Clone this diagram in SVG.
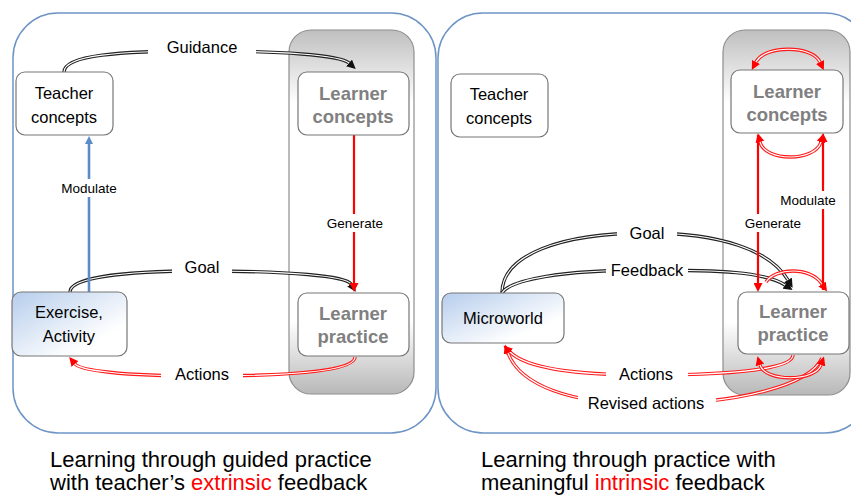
<svg xmlns="http://www.w3.org/2000/svg" width="851" height="497" viewBox="0 0 851 497">
<style>
.panel{fill:#fff;stroke:#6d94c6;stroke-width:1.5}
.gbox{fill:url(#gray);stroke:#8e8e8e;stroke-width:1.2}
.node{fill:#fff;stroke:#777;stroke-width:1.2}
.blue{fill:url(#blue);stroke:#777;stroke-width:1.2}
.t{font-family:"Liberation Sans",Arial,sans-serif;font-size:16.5px;fill:#000;text-anchor:middle}
.lt{font-family:"Liberation Sans",Arial,sans-serif;font-size:18.5px;font-weight:bold;fill:#808080;text-anchor:middle}
.lab{font-family:"Liberation Sans",Arial,sans-serif;font-size:16.5px;fill:#000;text-anchor:middle}
.sl{font-family:"Liberation Sans",Arial,sans-serif;font-size:13.5px;fill:#000;text-anchor:middle}
.cap{font-family:"Liberation Sans",Arial,sans-serif;font-size:22px;fill:#000}
.red{fill:#ff0000}
.ok{fill:none;stroke:#222;stroke-width:3.4}
.or{fill:none;stroke:#ff1a1a;stroke-width:3.4}
.iw{fill:none;stroke:#fff;stroke-width:1.2}
.sr{fill:none;stroke:#ff0000;stroke-width:2.2}
.sb{fill:none;stroke:#5b8cc8;stroke-width:2.6}
.bg{fill:#fff}
</style>
<defs>
<linearGradient id="gray" x1="0" y1="0" x2="0" y2="1">
<stop offset="0" stop-color="#bfbfbf"/>
<stop offset="0.2" stop-color="#fff"/>
<stop offset="0.8" stop-color="#fff"/>
<stop offset="1" stop-color="#b8b8b8"/>
</linearGradient>
<linearGradient id="blue" x1="0" y1="0" x2="1" y2="1">
<stop offset="0" stop-color="#b6cdec"/>
<stop offset="0.75" stop-color="#fff"/>
<stop offset="1" stop-color="#fff"/>
</linearGradient>
<marker id="ak" viewBox="0 0 10 10" refX="0" refY="5" markerWidth="9" markerHeight="9" markerUnits="userSpaceOnUse" orient="auto-start-reverse">
<path d="M0,0 L10,5 L0,10 z" fill="#111"/>
</marker>
<marker id="ar" viewBox="0 0 10 10" refX="0" refY="5" markerWidth="9" markerHeight="9" markerUnits="userSpaceOnUse" orient="auto-start-reverse">
<path d="M0,0 L10,5 L0,10 z" fill="#ff0000"/>
</marker>
<marker id="ab" viewBox="0 0 10 10" refX="0" refY="5" markerWidth="9" markerHeight="8" markerUnits="userSpaceOnUse" orient="auto-start-reverse">
<path d="M0,0 L10,5 L0,10 z" fill="#5b8cc8"/>
</marker>
</defs>

<g id="panel-left"><rect class="panel" x="13" y="13" width="423" height="420" rx="45"/></g>
<g id="panel-right"><rect class="panel" x="438" y="13" width="432" height="420" rx="45"/></g>
<g id="group-left"><rect class="gbox" x="289" y="30" width="125" height="364" rx="22"/></g>
<g id="group-right"><rect class="gbox" x="723" y="30" width="127" height="365" rx="22"/></g>

<g id="connectors">
<path class="ok" d="M64,72 C64,55 120,51 202,51 C280,51 340,55 349,63" marker-end="url(#ak)"/>
<path class="iw" d="M64,72 C64,55 120,51 202,51 C280,51 340,55 349,63"/>
<path class="ok" d="M70,292 C70,278 120,271 202,271 C290,271 346,276 351,284" marker-end="url(#ak)"/>
<path class="iw" d="M70,292 C70,278 120,271 202,271 C290,271 346,276 351,284"/>
<path class="or" d="M355,357 C355,370 300,376 202,376 C120,376 80,370 75,364" marker-end="url(#ar)"/>
<path class="iw" d="M355,357 C355,370 300,376 202,376 C120,376 80,370 75,364"/>
<path class="sb" d="M89,292 L89,144" marker-end="url(#ab)"/>
<path class="sr" d="M354,135 L354,283" marker-end="url(#ar)"/>
<path class="ok" d="M502,293 C502,255 560,233 647,233 C720,233 770,250 788,280" marker-end="url(#ak)"/>
<path class="iw" d="M502,293 C502,255 560,233 647,233 C720,233 770,250 788,280"/>
<path class="ok" d="M502,293 C510,280 560,270 647,270 C720,270 765,272 785,285" marker-end="url(#ak)"/>
<path class="iw" d="M502,293 C510,280 560,270 647,270 C720,270 765,272 785,285"/>
<path class="or" d="M793,355 C793,368 740,375 646,375 C570,375 525,367 510,352" marker-end="url(#ar)"/>
<path class="iw" d="M793,355 C793,368 740,375 646,375 C570,375 525,367 510,352"/>
<path class="or" d="M822,358 C810,385 740,404 646,404 C570,404 520,385 508,353" marker-end="url(#ar)"/>
<path class="iw" d="M822,358 C810,385 740,404 646,404 C570,404 520,385 508,353"/>
<path class="or" d="M756,62 C765,45 812,45 820,62" marker-start="url(#ar)" marker-end="url(#ar)"/>
<path class="iw" d="M756,62 C765,45 812,45 820,62"/>
<path class="or" d="M760,142 C765,162 815,162 821,142" marker-start="url(#ar)" marker-end="url(#ar)"/>
<path class="iw" d="M760,142 C765,162 815,162 821,142"/>
<path class="or" d="M766,282 C775,268 810,266 822,284" marker-end="url(#ar)"/>
<path class="iw" d="M766,282 C775,268 810,266 822,284"/>
<path class="or" d="M760,365 C765,382 815,382 821,365" marker-start="url(#ar)" marker-end="url(#ar)"/>
<path class="iw" d="M760,365 C765,382 815,382 821,365"/>
<path class="sr" d="M758,135 L758,283" marker-end="url(#ar)"/>
<path class="sr" d="M823,290 L823,142" marker-end="url(#ar)"/>
<rect class="bg" x="148" y="34" width="108" height="27"/>
<text class="lab" x="202" y="53">Guidance</text>
<rect class="bg" x="172" y="254" width="60" height="26"/>
<text class="lab" x="202" y="273">Goal</text>
<rect class="bg" x="161" y="362" width="82" height="26"/>
<text class="lab" x="202" y="380">Actions</text>
<rect class="bg" x="57" y="179" width="64" height="18"/>
<text class="sl" x="89" y="193">Modulate</text>
<rect class="bg" x="325" y="214" width="60" height="18"/>
<text class="sl" x="355" y="228">Generate</text>
<rect class="bg" x="617" y="220" width="60" height="26"/>
<text class="lab" x="647" y="239">Goal</text>
<rect class="bg" x="606" y="257" width="82" height="26"/>
<text class="lab" x="647" y="276">Feedback</text>
<rect class="bg" x="606" y="361" width="82" height="26"/>
<text class="lab" x="646" y="380">Actions</text>
<rect class="bg" x="578" y="390" width="138" height="27"/>
<text class="lab" x="646" y="409">Revised actions</text>
<rect class="bg" x="744" y="214" width="58" height="18"/>
<text class="sl" x="773" y="228">Generate</text>
<rect class="bg" x="778" y="191" width="60" height="18"/>
<text class="sl" x="808" y="205">Modulate</text>
</g>

<g id="teacher-concepts-left">
<rect class="node" x="16" y="72" width="97" height="63" rx="9"/>
<text class="t" x="64" y="99">Teacher</text>
<text class="t" x="64" y="123">concepts</text>
</g>
<g id="learner-concepts-left">
<rect class="node" x="298" y="72" width="111" height="63" rx="9"/>
<text class="lt" x="353" y="100">Learner</text>
<text class="lt" x="353" y="123">concepts</text>
</g>
<g id="exercise-activity">
<rect class="blue" x="12" y="292" width="115" height="64" rx="9"/>
<text class="t" x="69" y="318">Exercise,</text>
<text class="t" x="69" y="342">Activity</text>
</g>
<g id="learner-practice-left">
<rect class="node" x="298" y="293" width="111" height="63" rx="9"/>
<text class="lt" x="353" y="320">Learner</text>
<text class="lt" x="353" y="343">practice</text>
</g>

<g id="teacher-concepts-right">
<rect class="node" x="451" y="74" width="97" height="63" rx="9"/>
<text class="t" x="499" y="100">Teacher</text>
<text class="t" x="499" y="124">concepts</text>
</g>
<g id="learner-concepts-right">
<rect class="node" x="731" y="70" width="112" height="63" rx="9"/>
<text class="lt" x="787" y="98">Learner</text>
<text class="lt" x="787" y="121">concepts</text>
</g>
<g id="microworld">
<rect class="blue" x="442" y="293" width="122" height="50" rx="9"/>
<text class="t" x="503" y="324">Microworld</text>
</g>
<g id="learner-practice-right">
<rect class="node" x="738" y="292" width="111" height="62" rx="9"/>
<text class="lt" x="793" y="318">Learner</text>
<text class="lt" x="793" y="341">practice</text>
</g>

<g id="captions">
<text class="cap" x="50" y="467">Learning through guided practice</text>
<text class="cap" x="50" y="490">with teacher’s <tspan class="red">extrinsic</tspan> feedback</text>
<text class="cap" x="481" y="467">Learning through practice with</text>
<text class="cap" x="481" y="490">meaningful <tspan class="red">intrinsic</tspan> feedback</text>
</g>
</svg>
